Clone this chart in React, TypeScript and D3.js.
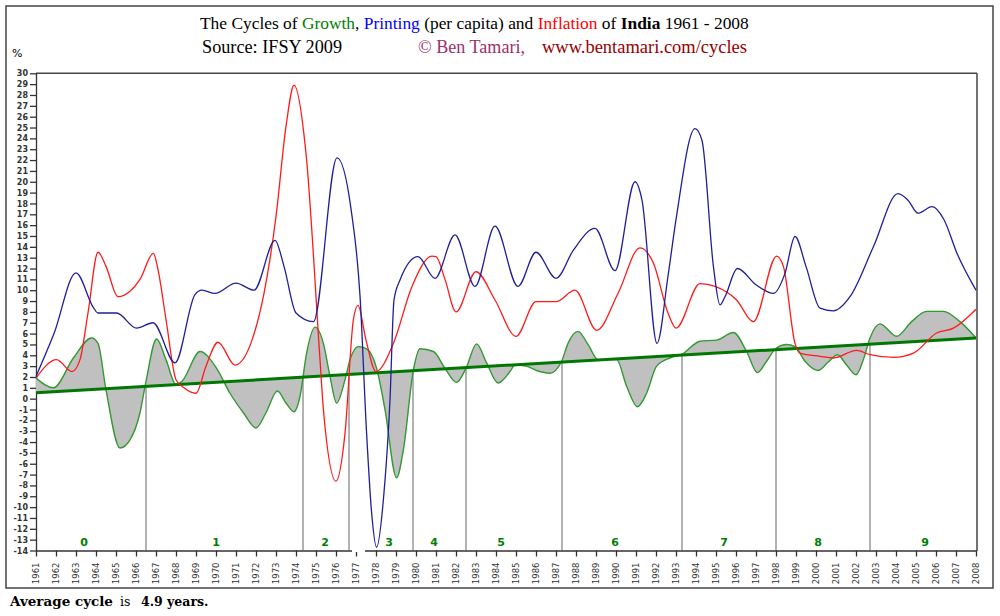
import { useEffect, useRef } from "react";
import { select, scaleLinear, line, area, curveMonotoneX, axisLeft, axisBottom, range } from "d3";

const years = range(1961, 2009);
const yTicks = range(-14, 31);

const printingYears = [1961, 1961.9, 1963, 1963.87, 1964.1, 1965.03, 1966.03, 1966.85, 1967.95, 1968.95, 1969.3, 1969.95, 1971, 1971.9, 1972.95, 1973.4, 1974, 1974.87, 1976.05, 1976.75, 1977.2, 1977.53, 1977.78, 1978.03, 1978.37, 1978.7, 1978.9, 1979.2, 1980.1, 1980.95, 1981.95, 1982.95, 1983.95, 1985.1, 1986, 1987, 1987.87, 1988.95, 1989.95, 1990.95, 1991.3, 1992.05, 1992.6, 1993, 1993.95, 1994.3, 1994.87, 1995.2, 1995.45, 1996.07, 1997, 1997.87, 1998.45, 1998.95, 1999.5, 2000.2, 2000.87, 2001.7, 2002.87, 2004.1, 2004.6, 2005.1, 2005.8, 2006.4, 2007.05, 2008];
const printingValues = [2.05, 6.0, 11.6, 8.4, 7.9, 7.9, 6.5, 7.0, 3.3, 9.6, 10.0, 9.7, 10.65, 10.0, 14.6, 12.2, 7.9, 7.1, 22.2, 17.5, 9.5, -3.2, -10.5, -13.7, -9.3, -0.1, 9.1, 10.95, 13.1, 11.1, 15.1, 10.35, 15.9, 10.35, 13.5, 11.1, 13.7, 15.7, 11.8, 20.0, 18.3, 5.1, 11.3, 16.5, 24.9, 23.8, 12.2, 8.65, 9.4, 12.0, 10.5, 9.7, 11.55, 14.95, 12.2, 8.35, 8.1, 9.4, 14.0, 18.9, 18.3, 17.1, 17.7, 16.5, 13.4, 10.0];

const inflationYears = [1961, 1962.03, 1962.8, 1963.2, 1963.6, 1964.1, 1964.5, 1965.1, 1965.7, 1966.2, 1966.87, 1967.1, 1967.5, 1968, 1968.4, 1969, 1969.5, 1970.1, 1970.95, 1971.8, 1972.4, 1973, 1973.5, 1973.9, 1974.5, 1975.2, 1975.37, 1976, 1976.45, 1976.87, 1977.1, 1977.5, 1978, 1978.87, 1979.8, 1980.8, 1981, 1981.45, 1982, 1983, 1983.95, 1985, 1986, 1987, 1987.95, 1989.03, 1990.1, 1991.2, 1991.87, 1992.6, 1993, 1994.2, 1994.95, 1996.03, 1996.87, 1998.03, 1998.37, 1998.95, 1999.2, 2000.2, 2000.87, 2002.03, 2002.7, 2003.87, 2004.87, 2006.03, 2006.87, 2008];
const inflationValues = [1.9, 3.6, 2.5, 3.6, 7.9, 13.5, 12.2, 9.4, 9.9, 11.0, 13.4, 11.9, 7.3, 1.75, 1.0, 0.5, 3.0, 5.2, 3.1, 5.4, 9.7, 16.8, 25.1, 28.9, 22.6, 3.6, -1.0, -7.6, -3.2, 7.3, 8.6, 5.4, 2.5, 5.1, 10.35, 13.15, 13.1, 11.0, 8.0, 11.7, 9.1, 5.75, 8.95, 8.95, 10.0, 6.3, 9.7, 13.9, 12.5, 7.9, 6.5, 10.6, 10.35, 9.1, 7.1, 13.15, 12.2, 5.1, 4.2, 3.9, 3.75, 4.45, 4.05, 3.8, 4.2, 6.05, 6.5, 8.25];

const growthYears = [1961, 1961.87, 1962.87, 1963.78, 1964.1, 1964.5, 1965.2, 1965.7, 1966.2, 1966.5, 1967.03, 1967.5, 1968, 1968.3, 1969.2, 1970.03, 1970.7, 1971.37, 1972, 1972.5, 1973.07, 1973.5, 1973.9, 1974.2, 1974.53, 1974.95, 1975.37, 1975.7, 1976.03, 1976.45, 1976.7, 1977.12, 1977.53, 1978.03, 1978.45, 1979.03, 1979.37, 1979.87, 1980.2, 1980.87, 1981.45, 1982.03, 1982.5, 1983.03, 1983.53, 1984.1, 1984.7, 1984.95, 1985.5, 1986.03, 1986.7, 1987.28, 1987.6, 1988.1, 1988.6, 1989.1, 1990.03, 1990.53, 1991.07, 1991.53, 1992.03, 1992.7, 1993.3, 1994.2, 1995.03, 1995.87, 1996.53, 1997.07, 1997.53, 1998, 1998.53, 1998.95, 1999.45, 2000.1, 2000.6, 2001.07, 2001.53, 2002, 2002.37, 2002.7, 2003.2, 2004.03, 2004.78, 2005.53, 2006.37, 2007.2, 2008];
const growthValues = [1.9, 1.0, 3.75, 5.6, 5.1, 0.8, -4.55, -3.8, -1.3, 1.6, 5.5, 3.6, 1.3, 1.6, 4.35, 2.8, 0.5, -1.3, -2.7, -1.3, 0.7, -0.4, -1.2, 0.2, 4.2, 6.6, 5.1, 2.05, -0.4, 1.75, 3.6, 4.8, 4.6, 2.8, -1.0, -7.3, -4.7, 2.65, 4.6, 4.35, 2.8, 1.5, 2.8, 5.05, 3.3, 1.45, 2.5, 3.1, 3.0, 2.6, 2.35, 3.45, 5.1, 6.2, 5.0, 3.6, 3.6, 1.15, -0.75, 0.5, 3.0, 3.75, 4.1, 5.3, 5.4, 6.1, 4.35, 2.4, 3.45, 4.65, 5.0, 4.8, 3.45, 2.6, 3.35, 4.05, 3.1, 2.2, 3.6, 5.6, 6.9, 5.75, 7.1, 8.05, 8.05, 7.1, 5.6];

const trendYears = [1961, 2008];
const trendValues = [0.55, 5.6];

const cycleBreaks = [1966.5, 1974.35, 1976.65, 1979.85, 1982.5, 1987.3, 1993.3, 1998.0, 2002.7];
const cycleLabels = ["0", "1", "2", "3", "4", "5", "6", "7", "8", "9"];
const cycleLabelYears = [1963.4, 1970, 1975.45, 1978.65, 1980.9, 1984.25, 1989.95, 1995.4, 2000.1, 2005.45];

const x = scaleLinear().domain([1961, 2008]).range([36, 976]);
const y = scaleLinear().domain([-14, 30]).range([550.5, 73.3]);
const trend = scaleLinear().domain(trendYears).range(trendValues);

const zip = (xs: number[], vs: number[]) => xs.map((v, i) => [v, vs[i]] as [number, number]);

const App = () => {
  const gRef = useRef<SVGGElement>(null);

  useEffect(() => {
    const g = select(gRef.current);
    g.selectAll("*").remove();

    // frame
    g.append("line").attr("x1", 36).attr("x2", 977).attr("y1", 73.3).attr("y2", 73.3)
      .attr("stroke", "#444").attr("stroke-width", 1.5);
    g.append("line").attr("x1", 977).attr("x2", 977).attr("y1", 73.3).attr("y2", 551)
      .attr("stroke", "#444").attr("stroke-width", 1.5);

    const yAxis: any = axisLeft(y).tickValues(yTicks).tickSize(6).tickSizeOuter(0).tickFormat((d: any) => String(d));
    const ya = g.append("g").attr("transform", "translate(36,0)").call(yAxis);
    ya.selectAll("path,line").attr("stroke", "#333").attr("stroke-width", 1.3);
    ya.selectAll("text").attr("font-family", "DejaVu Sans").attr("font-weight", "bold")
      .attr("font-size", 8).attr("fill", "#333").attr("x", -8);

    const xAxis: any = axisBottom(x).tickValues(years).tickSize(6).tickSizeOuter(0).tickFormat((d: any) => String(d));
    const xa = g.append("g").attr("transform", "translate(0,550.5)").call(xAxis);
    xa.selectAll("path,line").attr("stroke", "#333").attr("stroke-width", 1.3);
    xa.selectAll("text")
      .attr("font-family", "DejaVu Sans").attr("font-size", 8.5).attr("fill", "#333")
      .attr("transform", "rotate(-90)").attr("text-anchor", "end")
      .attr("x", -12).attr("y", 0).attr("dy", "0.33em");

    // little gap in the bottom axis
    g.append("rect").attr("x", x(1976.8)).attr("width", x(1977.45) - x(1976.8))
      .attr("y", 549).attr("height", 3).attr("fill", "#fff");

    const growth = zip(growthYears, growthValues);

    const fill: any = area<[number, number]>()
      .x((d) => x(d[0]))
      .y0((d) => y(trend(d[0])))
      .y1((d) => y(d[1]))
      .curve(curveMonotoneX);
    g.append("path").datum(growth).attr("d", fill).attr("fill", "#c0c0c0");

    // cycle dividers
    g.selectAll(".cyc").data(cycleBreaks).join("line").attr("class", "cyc")
      .attr("x1", (d) => x(d)).attr("x2", (d) => x(d))
      .attr("y1", (d) => y(trend(d))).attr("y2", 550)
      .attr("stroke", "#999").attr("stroke-width", 1.5);

    const mk: any = line<[number, number]>().x((d) => x(d[0])).y((d) => y(d[1])).curve(curveMonotoneX);

    g.append("path").datum(growth).attr("d", mk).attr("fill", "none")
      .attr("stroke", "#339933").attr("stroke-width", 1.4);

    g.append("path").datum(zip(trendYears, trendValues)).attr("d", mk).attr("fill", "none")
      .attr("stroke", "#007700").attr("stroke-width", 3);

    g.append("path").datum(zip(inflationYears, inflationValues)).attr("d", mk).attr("fill", "none")
      .attr("stroke", "#ff1a1a").attr("stroke-width", 1.3);

    g.append("path").datum(zip(printingYears, printingValues)).attr("d", mk).attr("fill", "none")
      .attr("stroke", "#1f1f99").attr("stroke-width", 1.3);

    g.selectAll(".clab").data(cycleLabels).join("text").attr("class", "clab")
      .attr("x", (d, i) => x(cycleLabelYears[i])).attr("y", 546)
      .attr("text-anchor", "middle").attr("font-family", "DejaVu Sans").attr("font-weight", "bold")
      .attr("font-size", 11).attr("fill", "#008000").text((d) => d);
  }, []);

  return (
    <svg width={1000} height={616} style={{ position: "absolute", left: 0, top: 0, background: "#fff" }}>
      <rect x={6} y={6} width={987} height={582} fill="#fff" stroke="#444" strokeWidth={1.5} />
      <text x={200} y={29} fontFamily="Liberation Serif" fontSize={17.4} fill="#000">
        The Cycles of <tspan fill="#008000">Growth</tspan>, <tspan fill="#0000ff">Printing</tspan> (per capita) and{" "}
        <tspan fill="#ff0000">Inflation</tspan> of <tspan fontWeight="bold">India</tspan> 1961 - 2008
      </text>
      <text x={202} y={53} fontFamily="Liberation Serif" fontSize={18} fill="#000"
        textLength={140} lengthAdjust="spacingAndGlyphs">Source: IFSY 2009</text>
      <text x={418} y={53} fontFamily="Liberation Serif" fontSize={18} fill="#993366"
        textLength={107} lengthAdjust="spacingAndGlyphs">© Ben Tamari,</text>
      <text x={542} y={53} fontFamily="Liberation Serif" fontSize={18} fill="#990000"
        textLength={205} lengthAdjust="spacingAndGlyphs">www.bentamari.com/cycles</text>
      <text x={12} y={57} fontFamily="DejaVu Sans" fontSize={11} fill="#000">%</text>
      <g ref={gRef} />
      <text x={10} y={606} fontFamily="DejaVu Serif" fill="#000">
        <tspan fontWeight="bold" fontSize={13.5}>Average cycle</tspan>
        <tspan x={120} fontSize={12.5}>is</tspan>
        <tspan x={141} fontWeight="bold" fontSize={12.5}>4.9 years.</tspan>
      </text>
    </svg>
  );
};

export default App;
